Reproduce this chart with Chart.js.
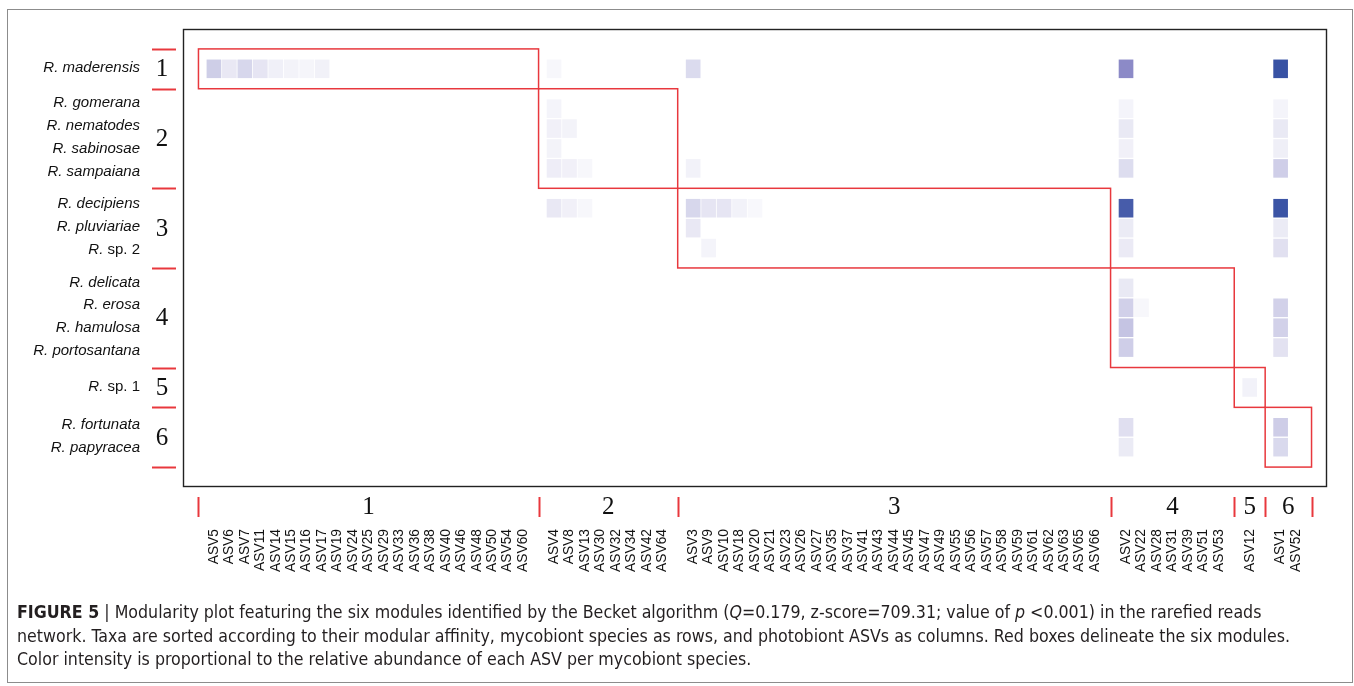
<!DOCTYPE html>
<html>
<head>
<meta charset="utf-8">
<script src="https://cdn.jsdelivr.net/npm/chart.js@4.4.1/dist/chart.umd.min.js"></script>
<style>
  html, body { margin:0; padding:0; background:#fff; }
  body { width:1354px; height:686px; position:relative; overflow:hidden; }
  #frame { position:absolute; left:7px; top:9px; width:1344px; height:672px; border:1.5px solid #8c8c8c; }
  #chart { position:absolute; left:0; top:0; }
  #caption { position:absolute; left:17px; top:601px; font-family:"Liberation Sans Narrow","DejaVu Sans Condensed","Liberation Sans",Arial,sans-serif;
             font-size:17px; line-height:23.5px; color:#231f20; white-space:nowrap; transform-origin:0 0; }
  #caption b { font-weight:bold; }
</style>
</head>
<body>
<div id="frame"></div>
<canvas id="chart" width="1354" height="686"></canvas>
<div id="caption">
  <div id="cap1"><b>FIGURE 5</b> | Modularity plot featuring the six modules identified by the Becket algorithm (<i>Q</i>=0.179, z-score=709.31; value of <i>p</i> &lt;0.001) in the rarefied reads</div>
  <div>network. Taxa are sorted according to their modular affinity, mycobiont species as rows, and photobiont ASVs as columns. Red boxes delineate the six modules.</div>
  <div>Color intensity is proportional to the relative abundance of each ASV per mycobiont species.</div>
</div>
<script>
// ---------------- DATA ----------------
const species = ["R. maderensis","R. gomerana","R. nematodes","R. sabinosae","R. sampaiana",
  "R. decipiens","R. pluviariae","R. sp. 2","R. delicata","R. erosa","R. hamulosa","R. portosantana",
  "R. sp. 1","R. fortunata","R. papyracea"];
const speciesModule = [1,2,2,2,2,3,3,3,4,4,4,4,5,6,6];

const asvs = ["ASV5","ASV6","ASV7","ASV11","ASV14","ASV15","ASV16","ASV17","ASV19","ASV24","ASV25","ASV29","ASV33","ASV36","ASV38","ASV40","ASV46","ASV48","ASV50","ASV54","ASV60",
  "ASV4","ASV8","ASV13","ASV30","ASV32","ASV34","ASV42","ASV64",
  "ASV3","ASV9","ASV10","ASV18","ASV20","ASV21","ASV23","ASV26","ASV27","ASV35","ASV37","ASV41","ASV43","ASV44","ASV45","ASV47","ASV49","ASV55","ASV56","ASV57","ASV58","ASV59","ASV61","ASV62","ASV63","ASV65","ASV66",
  "ASV2","ASV22","ASV28","ASV31","ASV39","ASV51","ASV53",
  "ASV12",
  "ASV1","ASV52"];
const asvModule = [1,1,1,1,1,1,1,1,1,1,1,1,1,1,1,1,1,1,1,1,1,
  2,2,2,2,2,2,2,2,
  3,3,3,3,3,3,3,3,3,3,3,3,3,3,3,3,3,3,3,3,3,3,3,3,3,3,3,
  4,4,4,4,4,4,4,
  5,
  6,6];
const modules = [1,2,3,4,5,6];

// relative abundance of each ASV per mycobiont species: [species, ASV, value]
const abundance = [
  ["R. maderensis","ASV5",0.19],["R. maderensis","ASV6",0.087],["R. maderensis","ASV7",0.155],["R. maderensis","ASV11",0.099],
  ["R. maderensis","ASV14",0.058],["R. maderensis","ASV15",0.047],["R. maderensis","ASV16",0.039],["R. maderensis","ASV17",0.054],
  ["R. maderensis","ASV4",0.031],["R. maderensis","ASV3",0.14],["R. maderensis","ASV2",0.45],["R. maderensis","ASV1",1.0],
  ["R. gomerana","ASV4",0.043],["R. gomerana","ASV2",0.043],["R. gomerana","ASV1",0.043],
  ["R. nematodes","ASV4",0.056],["R. nematodes","ASV8",0.047],["R. nematodes","ASV2",0.085],["R. nematodes","ASV1",0.085],
  ["R. sabinosae","ASV4",0.047],["R. sabinosae","ASV2",0.056],["R. sabinosae","ASV1",0.062],
  ["R. sampaiana","ASV4",0.068],["R. sampaiana","ASV8",0.056],["R. sampaiana","ASV13",0.031],["R. sampaiana","ASV3",0.05],
  ["R. sampaiana","ASV2",0.132],["R. sampaiana","ASV1",0.188],
  ["R. decipiens","ASV4",0.087],["R. decipiens","ASV8",0.056],["R. decipiens","ASV13",0.031],["R. decipiens","ASV3",0.155],
  ["R. decipiens","ASV9",0.099],["R. decipiens","ASV10",0.099],["R. decipiens","ASV18",0.05],["R. decipiens","ASV20",0.027],
  ["R. decipiens","ASV2",0.9],["R. decipiens","ASV1",0.98],
  ["R. pluviariae","ASV3",0.087],["R. pluviariae","ASV2",0.078],["R. pluviariae","ASV1",0.078],
  ["R. sp. 2","ASV9",0.043],["R. sp. 2","ASV2",0.08],["R. sp. 2","ASV1",0.118],
  ["R. delicata","ASV2",0.085],
  ["R. erosa","ASV2",0.18],["R. erosa","ASV22",0.03],["R. erosa","ASV1",0.177],
  ["R. hamulosa","ASV2",0.227],["R. hamulosa","ASV1",0.177],
  ["R. portosantana","ASV2",0.188],["R. portosantana","ASV1",0.11],
  ["R. sp. 1","ASV12",0.05],
  ["R. fortunata","ASV2",0.122],["R. fortunata","ASV1",0.192],
  ["R. papyracea","ASV2",0.078],["R. papyracea","ASV1",0.147]
];

// ---------------- LAYOUT (slots with a spacer between modules) ----------------
function slotsFor(mods) {
  const s = []; let pos = 0;
  for (let i = 0; i < mods.length; i++) {
    if (i > 0 && mods[i] !== mods[i-1]) pos++;
    s.push(pos); pos++;
  }
  return s;
}
const rowSlot = slotsFor(speciesModule);
const colSlot = slotsFor(asvModule);

function moduleRange(mods, slots, m) {
  const idx = mods.map((v,i)=>v===m?i:-1).filter(i=>i>=0);
  return [slots[idx[0]], slots[idx[idx.length-1]]];
}

// colour ramp
const stops = [[0,[255,255,255]],[0.45,[140,138,199]],[1,[56,82,164]]];
function ramp(t) {
  for (let i = 1; i < stops.length; i++) {
    if (t <= stops[i][0]) {
      const a = stops[i-1], b = stops[i];
      const f = (t - a[0]) / (b[0] - a[0]);
      const c = a[1].map((v,k)=>Math.round(v + (b[1][k]-v)*f));
      return `rgb(${c[0]},${c[1]},${c[2]})`;
    }
  }
  return `rgb(${stops[2][1].join(',')})`;
}

const cellData = abundance.map(([sp, asv, v]) => {
  const r = rowSlot[species.indexOf(sp)];
  const c = colSlot[asvs.indexOf(asv)];
  return { x: c, y: [r - 0.45, r + 0.45], v: v };
});
const cellColors = abundance.map(a => ramp(a[2]));

const RED = '#e8383d';

const decor = {
  id: 'decor',
  afterDraw(chart) {
    const ctx = chart.ctx, ca = chart.chartArea;
    const xs = chart.scales.x, ys = chart.scales.y;
    ctx.save();
    // plot frame
    ctx.strokeStyle = '#222'; ctx.lineWidth = 1.4;
    ctx.strokeRect(ca.left + 0.5, ca.top + 0.5, ca.right - ca.left - 1, ca.bottom - ca.top - 1);

    // module boxes and boundary ticks
    ctx.strokeStyle = RED;
    const rowBounds = [], colBounds = [];
    modules.forEach(m => {
      const rr = moduleRange(speciesModule, rowSlot, m);
      const cr = moduleRange(asvModule, colSlot, m);
      const x0 = xs.getPixelForValue(cr[0] - 1), x1 = xs.getPixelForValue(cr[1] + 1);
      const y0 = ys.getPixelForValue(rr[0] - 1), y1 = ys.getPixelForValue(rr[1] + 1);
      ctx.lineWidth = 1.5;
      ctx.strokeRect(x0, y0, x1 - x0, y1 - y0);
      rowBounds.push(rr); colBounds.push(cr);
    });
    ctx.lineWidth = 2;
    const rowB = [rowBounds[0][0] - 1].concat(rowBounds.map(r => r[1] + 1));
    rowB.forEach(s => {
      const y = Math.round(ys.getPixelForValue(s)) + 0.5;
      ctx.beginPath(); ctx.moveTo(ca.left - 31, y); ctx.lineTo(ca.left - 7, y); ctx.stroke();
    });
    const colB = [colBounds[0][0] - 1].concat(colBounds.map(c => c[1] + 1));
    colB.forEach(s => {
      const x = Math.round(xs.getPixelForValue(s)) + 0.5;
      ctx.beginPath(); ctx.moveTo(x, ca.bottom + 10); ctx.lineTo(x, ca.bottom + 30); ctx.stroke();
    });

    // module numbers
    ctx.fillStyle = '#111';
    ctx.font = '25px "Liberation Serif", "Times New Roman", serif';
    ctx.textAlign = 'center'; ctx.textBaseline = 'middle';
    modules.forEach((m, i) => {
      const rr = rowBounds[i], cr = colBounds[i];
      const yc = ys.getPixelForValue((rr[0] + rr[1]) / 2);
      ctx.fillText(String(m), ca.left - 21, yc + 1);
      const xc = xs.getPixelForValue((cr[0] + cr[1]) / 2);
      ctx.fillText(String(m), xc, ca.bottom + 20);
    });

    // species labels
    ctx.textAlign = 'left';
    const rightX = ca.left - 43;
    const F = '15px "Liberation Sans", Arial, sans-serif';
    const FI = 'italic 15px "Liberation Sans", Arial, sans-serif';
    species.forEach((sp, i) => {
      const rr = rowBounds[speciesModule[i] - 1];
      const yc = ys.getPixelForValue((rr[0] + rr[1]) / 2);
      const yr = ys.getPixelForValue(rowSlot[i]);
      const y = yc + (yr - yc) * 1.15 - 1;
      const m = sp.match(/^(R\.)( sp\. \d+)$/);
      if (m) {
        ctx.font = F;
        const w2 = ctx.measureText(m[2]).width;
        ctx.font = FI;
        const w1 = ctx.measureText(m[1]).width;
        ctx.fillText(m[1], rightX - w2 - w1, y);
        ctx.font = F;
        ctx.fillText(m[2], rightX - w2, y);
      } else {
        ctx.font = FI;
        const w = ctx.measureText(sp).width;
        ctx.fillText(sp, rightX - w, y);
      }
    });

    // ASV labels (rotated)
    ctx.font = '13.8px "Liberation Sans", Arial, sans-serif';
    ctx.textAlign = 'right'; ctx.textBaseline = 'middle';
    asvs.forEach((a, i) => {
      const x = xs.getPixelForValue(colSlot[i]);
      ctx.save();
      ctx.translate(x, ca.bottom + 42);
      ctx.rotate(-Math.PI / 2);
      ctx.fillText(a, 0, 0);
      ctx.restore();
    });
    ctx.restore();
  }
};

new Chart(document.getElementById('chart'), {
  type: 'bar',
  data: {
    datasets: [{
      data: cellData,
      backgroundColor: cellColors,
      borderWidth: 0,
      barThickness: 14
    }]
  },
  options: {
    responsive: false,
    animation: false,
    devicePixelRatio: 1,
    layout: { padding: { left: 183, top: 29, right: 27, bottom: 199 } },
    plugins: { legend: { display: false }, tooltip: { enabled: false } },
    scales: {
      x: { type: 'linear', min: -2, max: 72, offset: false, display: false },
      y: { type: 'linear', min: -2, max: 21, reverse: true, display: false }
    }
  },
  plugins: [decor]
});

// fit caption line 1 to its width in the reference
function fitCaption() {
  const cap = document.getElementById('caption');
  const w = document.getElementById('cap1').scrollWidth;
  const target = 1273;
  cap.style.transform = 'scaleX(' + (target / w) + ')';
}
if (document.fonts && document.fonts.ready) document.fonts.ready.then(fitCaption); else fitCaption();
fitCaption();
</script>
</body>
</html>
